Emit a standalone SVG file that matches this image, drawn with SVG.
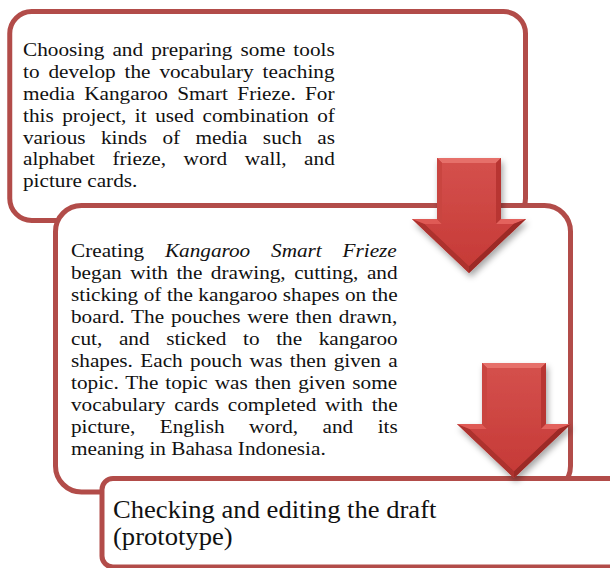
<svg xmlns="http://www.w3.org/2000/svg" xmlns:xlink="http://www.w3.org/1999/xlink" width="610" height="568" viewBox="0 0 610 568">
<style>
.box{fill:#ffffff;stroke:#b24c49;stroke-width:5}
.t{font-family:"Liberation Serif","Times New Roman",serif;font-size:19.5px;fill:#111111}
.t3{font-family:"Liberation Serif","Times New Roman",serif;font-size:24.4px;fill:#111111}
.it{font-style:italic}
</style>
<defs>
<filter id="shadow" x="-30%" y="-20%" width="160%" height="150%">
<feDropShadow dx="2" dy="4" stdDeviation="3" flood-color="#000000" flood-opacity="0.35"/>
</filter>
<linearGradient id="face" x1="0" y1="0" x2="0" y2="1">
<stop offset="0" stop-color="#d4504c"/>
<stop offset="1" stop-color="#c63a37"/>
</linearGradient>
<g id="arrowShape">
<polygon points="-32,0 32,0 32,61 57,61 0,115 -57,61 -32,61" fill="#c13c39"/>
<polygon points="-32,0 32,0 27,5 -27,5" fill="#e66f6a"/>
<polygon points="32,0 32,61 27,66 27,5" fill="#b83633"/>
<polygon points="32,61 57,61 44.4,66 27,66" fill="#e3625d"/>
<polygon points="57,61 0,115 0,108.1 44.4,66" fill="#9c2927"/>
<polygon points="0,115 -57,61 -44.4,66 0,108.1" fill="#ad302d"/>
<polygon points="-57,61 -32,61 -27,66 -44.4,66" fill="#df5a55"/>
<polygon points="-32,61 -32,0 -27,5 -27,66" fill="#c94440"/>
<polygon points="-27,5 27,5 27,66 44.4,66 0,108.1 -44.4,66 -27,66" fill="url(#face)"/>
</g>
</defs>

<g id="node1">
<rect class="box" x="9.75" y="11.5" width="515.75" height="209" rx="22" ry="22"/>
<g transform="translate(23,0) scale(1.09,1)">
<text class="t" x="0" y="56" word-spacing="2.5">Choosing and preparing some tools</text>
<text class="t" x="0" y="77.9" word-spacing="3.3">to develop the vocabulary teaching</text>
<text class="t" x="0" y="99.8" word-spacing="3.7">media Kangaroo Smart Frieze. For</text>
<text class="t" x="0" y="121.7" word-spacing="2.9">this project, it used combination of</text>
<text class="t" x="0" y="143.6" word-spacing="9.3">various kinds of media such as</text>
<text class="t" x="0" y="165.5" word-spacing="11.2">alphabet frieze, word wall, and</text>
<text class="t" x="0" y="187.4">picture cards.</text>
</g>
</g>

<g id="node2">
<rect class="box" x="55.5" y="205.5" width="515" height="286.5" rx="26" ry="26"/>
<g transform="translate(71,0) scale(1.09,1)">
<text class="t" x="0" y="257.5" word-spacing="14.2">Creating <tspan class="it">Kangaroo Smart Frieze</tspan></text>
<text class="t" x="0" y="279.4" word-spacing="2.9">began with the drawing, cutting, and</text>
<text class="t" x="0" y="301.3" word-spacing="0.17">sticking of the kangaroo shapes on the</text>
<text class="t" x="0" y="323.2" word-spacing="1.4">board. The pouches were then drawn,</text>
<text class="t" x="0" y="345.1" word-spacing="10.4">cut, and sticked to the kangaroo</text>
<text class="t" x="0" y="367" word-spacing="1.9">shapes. Each pouch was then given a</text>
<text class="t" x="0" y="388.9" word-spacing="1.5">topic. The topic was then given some</text>
<text class="t" x="0" y="410.8" word-spacing="3.25">vocabulary cards completed with the</text>
<text class="t" x="0" y="432.7" word-spacing="17.6">picture, English word, and its</text>
<text class="t" x="0" y="454.6">meaning in Bahasa Indonesia.</text>
</g>
</g>

<g id="node3">
<rect class="box" x="102" y="478.5" width="540" height="88.5" rx="11" ry="11"/>
<g transform="translate(113,0) scale(1.09,1)">
<text class="t3" x="0" y="518">Checking and editing the draft</text>
<text class="t3" x="0" y="545">(prototype)</text>
</g>
</g>

<g id="connectors">
<use id="arrow1" xlink:href="#arrowShape" href="#arrowShape" transform="translate(469,158)" filter="url(#shadow)"/>
<use id="arrow2" xlink:href="#arrowShape" href="#arrowShape" transform="translate(514,363)" filter="url(#shadow)"/>
</g>
</svg>
